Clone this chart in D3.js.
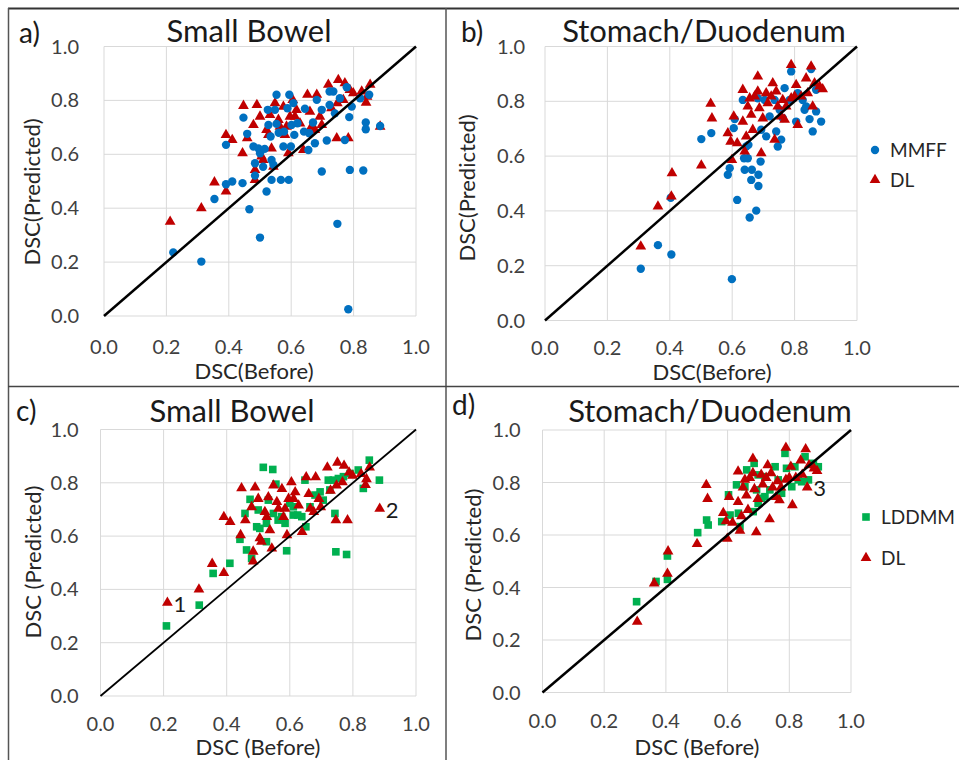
<!DOCTYPE html>
<html>
<head>
<meta charset="utf-8">
<script src="https://cdn.jsdelivr.net/npm/d3@7"></script>
<style>
  body { margin: 0; background: #fff; }
  svg { font-family: Lato, "Open Sans", sans-serif; }
  .tick-label { fill: #404040; font-size: 20px; }
  .axis-title { fill: #262626; font-size: 22px; }
  .panel-title { fill: #1a1a1a; font-size: 31px; }
  .panel-letter { fill: #1a1a1a; font-size: 28px; }
  .legend-text { fill: #262626; font-size: 19px; }
  .note { fill: #1a1a1a; font-size: 22px; }
</style>
</head>
<body>
<div id="chart"></div>
<script>
// ---- data: [DSC before, DSC predicted] ----
const ticks = [0, 0.2, 0.4, 0.6, 0.8, 1.0];

const smallBowelMMFF = [
  [0.222, 0.236], [0.312, 0.202], [0.354, 0.434], [0.391, 0.635], [0.391, 0.489],
  [0.411, 0.499], [0.444, 0.493], [0.447, 0.736], [0.459, 0.676], [0.466, 0.396],
  [0.500, 0.291], [0.479, 0.629], [0.484, 0.567], [0.484, 0.521], [0.495, 0.622],
  [0.500, 0.604], [0.510, 0.554], [0.521, 0.462], [0.525, 0.765], [0.527, 0.709],
  [0.534, 0.666], [0.537, 0.505], [0.537, 0.579], [0.543, 0.561], [0.553, 0.821],
  [0.548, 0.765], [0.553, 0.713], [0.567, 0.505], [0.575, 0.629], [0.577, 0.684],
  [0.592, 0.505], [0.594, 0.821], [0.588, 0.771], [0.601, 0.709], [0.599, 0.629],
  [0.607, 0.790], [0.610, 0.672], [0.620, 0.715], [0.644, 0.769], [0.641, 0.684],
  [0.655, 0.616], [0.658, 0.678], [0.676, 0.641], [0.670, 0.718], [0.682, 0.802],
  [0.698, 0.765], [0.698, 0.536], [0.714, 0.651], [0.723, 0.833], [0.723, 0.783],
  [0.740, 0.752], [0.748, 0.342], [0.756, 0.808], [0.772, 0.653], [0.778, 0.849],
  [0.783, 0.025], [0.786, 0.738], [0.788, 0.542], [0.794, 0.777], [0.821, 0.808],
  [0.831, 0.540], [0.839, 0.718], [0.839, 0.693], [0.850, 0.821], [0.885, 0.705],
  [0.735, 0.833], [0.515, 0.620], [0.560, 0.680]
];

const smallBowelDL = [
  [0.212, 0.350], [0.312, 0.400], [0.354, 0.496], [0.391, 0.462], [0.391, 0.672],
  [0.411, 0.653], [0.444, 0.604], [0.447, 0.780], [0.459, 0.660], [0.479, 0.709],
  [0.490, 0.783], [0.484, 0.505], [0.484, 0.542], [0.500, 0.740], [0.505, 0.592],
  [0.510, 0.579], [0.521, 0.691], [0.527, 0.672], [0.532, 0.746], [0.537, 0.622],
  [0.543, 0.554], [0.548, 0.790], [0.559, 0.728], [0.564, 0.703], [0.575, 0.777],
  [0.580, 0.672], [0.585, 0.703], [0.591, 0.604], [0.596, 0.740], [0.605, 0.802],
  [0.612, 0.740], [0.617, 0.765], [0.628, 0.715], [0.639, 0.616], [0.652, 0.821],
  [0.660, 0.758], [0.665, 0.703], [0.682, 0.821], [0.676, 0.691], [0.692, 0.740],
  [0.698, 0.709], [0.719, 0.858], [0.729, 0.771], [0.746, 0.660], [0.751, 0.876],
  [0.748, 0.790], [0.772, 0.864], [0.788, 0.839], [0.783, 0.660], [0.799, 0.827],
  [0.826, 0.833], [0.840, 0.792], [0.853, 0.858], [0.885, 0.703], [0.843, 0.814],
  [0.767, 0.802]
];

const smallBowelLDDMM = [
  [0.209, 0.263], [0.313, 0.341], [0.357, 0.460], [0.410, 0.498], [0.442, 0.588],
  [0.463, 0.548], [0.479, 0.516], [0.474, 0.738], [0.458, 0.685], [0.495, 0.635],
  [0.500, 0.698], [0.516, 0.858], [0.546, 0.850], [0.505, 0.629], [0.526, 0.579],
  [0.532, 0.735], [0.556, 0.795], [0.548, 0.685], [0.563, 0.660], [0.574, 0.673],
  [0.590, 0.545], [0.585, 0.648], [0.600, 0.723], [0.611, 0.679], [0.625, 0.679],
  [0.638, 0.673], [0.648, 0.810], [0.651, 0.635], [0.664, 0.710], [0.680, 0.754],
  [0.696, 0.766], [0.706, 0.735], [0.722, 0.810], [0.727, 0.773], [0.743, 0.685],
  [0.746, 0.541], [0.780, 0.531], [0.770, 0.823], [0.791, 0.835], [0.817, 0.848],
  [0.833, 0.779], [0.852, 0.885], [0.884, 0.810], [0.738, 0.810], [0.754, 0.816],
  [0.611, 0.710], [0.526, 0.648]
];

const stomachMMFF = [
  [0.307, 0.189], [0.362, 0.275], [0.405, 0.241], [0.403, 0.448], [0.501, 0.662],
  [0.533, 0.684], [0.586, 0.532], [0.592, 0.556], [0.599, 0.151], [0.605, 0.702],
  [0.616, 0.440], [0.634, 0.805], [0.638, 0.592], [0.640, 0.550], [0.650, 0.592],
  [0.652, 0.641], [0.656, 0.376], [0.661, 0.513], [0.663, 0.550], [0.677, 0.401],
  [0.684, 0.532], [0.684, 0.491], [0.691, 0.580], [0.693, 0.696], [0.709, 0.672],
  [0.720, 0.745], [0.736, 0.805], [0.741, 0.690], [0.746, 0.635], [0.757, 0.660],
  [0.762, 0.739], [0.768, 0.848], [0.789, 0.909], [0.805, 0.726], [0.832, 0.769],
  [0.837, 0.781], [0.848, 0.735], [0.853, 0.918], [0.858, 0.690], [0.869, 0.763],
  [0.885, 0.726], [0.869, 0.842], [0.704, 0.805], [0.752, 0.769], [0.784, 0.805],
  [0.608, 0.735], [0.682, 0.811], [0.810, 0.830], [0.826, 0.805], [0.645, 0.635]
];

const stomachDL = [
  [0.307, 0.270], [0.362, 0.416], [0.405, 0.453], [0.407, 0.538], [0.501, 0.566],
  [0.531, 0.791], [0.535, 0.738], [0.586, 0.684], [0.595, 0.653], [0.599, 0.586],
  [0.605, 0.745], [0.616, 0.647], [0.634, 0.842], [0.634, 0.726], [0.640, 0.617],
  [0.645, 0.672], [0.650, 0.781], [0.656, 0.811], [0.661, 0.751], [0.666, 0.696],
  [0.682, 0.891], [0.682, 0.836], [0.687, 0.775], [0.693, 0.611], [0.698, 0.738],
  [0.709, 0.830], [0.714, 0.793], [0.730, 0.866], [0.736, 0.660], [0.741, 0.836],
  [0.746, 0.781], [0.757, 0.745], [0.762, 0.805], [0.768, 0.733], [0.773, 0.781],
  [0.789, 0.933], [0.789, 0.811], [0.805, 0.860], [0.810, 0.714], [0.821, 0.818],
  [0.837, 0.884], [0.842, 0.830], [0.853, 0.927], [0.858, 0.781], [0.864, 0.866],
  [0.880, 0.854], [0.890, 0.844], [0.800, 0.818], [0.672, 0.818], [0.725, 0.818]
];

const stomachLDDMM = [
  [0.305, 0.346], [0.368, 0.423], [0.405, 0.520], [0.405, 0.431], [0.503, 0.609],
  [0.532, 0.657], [0.537, 0.638], [0.581, 0.651], [0.603, 0.753], [0.608, 0.676],
  [0.629, 0.791], [0.635, 0.683], [0.640, 0.632], [0.656, 0.784], [0.662, 0.848],
  [0.683, 0.689], [0.686, 0.873], [0.694, 0.772], [0.699, 0.721], [0.710, 0.740],
  [0.721, 0.822], [0.737, 0.772], [0.754, 0.860], [0.764, 0.810], [0.775, 0.759],
  [0.786, 0.911], [0.791, 0.854], [0.808, 0.784], [0.829, 0.810], [0.840, 0.803],
  [0.862, 0.810], [0.851, 0.898], [0.878, 0.873], [0.894, 0.860], [0.721, 0.746],
  [0.699, 0.829], [0.818, 0.860]
];

// annotated cases (label next to a DL point)
const smallBowelNotes = [["1", 0.212, 0.350], ["2", 0.885, 0.703]];
const stomachNotes = [["3", 0.858, 0.781]];

const colors = { MMFF: '#0070C0', DL: '#C00000', LDDMM: '#00B050' };

// ---- layout ----
const width = 959, height = 760;
const svg = d3.select('#chart').append('svg')
  .attr('width', width).attr('height', height);

// frame lines
svg.append('line').attr('x1', 8).attr('x2', width).attr('y1', 8.5).attr('y2', 8.5)
  .attr('stroke', '#333').attr('stroke-width', 2);
svg.append('line').attr('x1', 8.5).attr('x2', 8.5).attr('y1', 8).attr('y2', height)
  .attr('stroke', '#555').attr('stroke-width', 1.5);
svg.append('line').attr('x1', 446).attr('x2', 446).attr('y1', 8).attr('y2', height)
  .attr('stroke', '#555').attr('stroke-width', 1.5);
svg.append('line').attr('x1', 8).attr('x2', width).attr('y1', 386.5).attr('y2', 386.5)
  .attr('stroke', '#444').attr('stroke-width', 1.5);

const symbolFor = {
  MMFF: d3.symbol().type(d3.symbolCircle).size(55),
  DL: d3.symbol().type(d3.symbolTriangle).size(50),
  LDDMM: d3.symbol().type(d3.symbolSquare).size(58),
};

function drawPanel(p) {
  const g = svg.append('g');
  const x = d3.scaleLinear().domain([0, 1]).range([p.left, p.right]);
  const y = d3.scaleLinear().domain([0, 1]).range([p.bottom, p.top]);

  // grid
  g.append('g').selectAll('line').data(ticks).join('line')
    .attr('x1', d => x(d)).attr('x2', d => x(d))
    .attr('y1', p.top).attr('y2', p.bottom)
    .attr('stroke', '#d9d9d9').attr('stroke-width', 1);
  g.append('g').selectAll('line').data(ticks).join('line')
    .attr('y1', d => y(d)).attr('y2', d => y(d))
    .attr('x1', p.left).attr('x2', p.right)
    .attr('stroke', '#d9d9d9').attr('stroke-width', 1);

  // tick labels
  g.append('g').selectAll('text').data(ticks).join('text')
    .attr('class', 'tick-label')
    .attr('x', d => x(d)).attr('y', p.bottom + p.xTickGap)
    .attr('text-anchor', 'middle')
    .text(d3.format('.1f'));
  g.append('g').selectAll('text').data(ticks).join('text')
    .attr('class', 'tick-label')
    .attr('x', p.left - p.yTickGap).attr('y', d => y(d) + 7)
    .attr('text-anchor', 'end')
    .text(d3.format('.1f'));

  // series
  p.series.forEach(([name, pts]) => {
    g.append('g').selectAll('path').data(pts).join('path')
      .attr('d', symbolFor[name])
      .attr('transform', d => `translate(${x(d[0])},${y(d[1])})`)
      .attr('fill', colors[name]);
  });

  // identity line
  g.append('line')
    .attr('x1', x(0)).attr('y1', y(0)).attr('x2', x(1)).attr('y2', y(1))
    .attr('stroke', '#000').attr('stroke-width', p.lineWidth);

  // notes
  (p.notes || []).forEach(([label, nx, ny]) => {
    g.append('text').attr('class', 'note')
      .attr('x', x(nx) + 6).attr('y', y(ny) + 9).text(label);
  });

  // titles
  g.append('text').attr('class', 'panel-title')
    .attr('x', p.titleX).attr('y', p.titleY).attr('text-anchor', 'middle').text(p.title);
  g.append('text').attr('class', 'panel-letter')
    .attr('x', p.letterX).attr('y', p.letterY).text(p.letter);
  g.append('text').attr('class', 'axis-title')
    .attr('x', p.xTitleX).attr('y', p.xTitleY).attr('text-anchor', 'middle').text(p.xTitle);
  g.append('text').attr('class', 'axis-title')
    .attr('transform', `translate(${p.yTitleX},${p.yTitleY}) rotate(-90)`)
    .attr('text-anchor', 'middle').text(p.yTitle);

  // legend
  if (p.legend) {
    p.legend.forEach(([name, label], i) => {
      const ly = p.legendY + i * p.legendStep;
      g.append('path').attr('d', symbolFor[name])
        .attr('transform', `translate(${p.legendX},${ly})`)
        .attr('fill', colors[name]);
      g.append('text').attr('class', 'legend-text')
        .attr('x', p.legendX + 15).attr('y', ly + 7).text(label);
    });
  }
}

drawPanel({
  left: 104, right: 416, top: 46.5, bottom: 316, xTickGap: 38, yTickGap: 25,
  series: [['DL', smallBowelDL], ['MMFF', smallBowelMMFF]], lineWidth: 2.5,
  title: 'Small Bowel', titleX: 249, titleY: 42, letter: 'a)', letterX: 19, letterY: 43,
  xTitle: 'DSC(Before)', xTitleX: 254, xTitleY: 379,
  yTitle: 'DSC(Predicted)', yTitleX: 40, yTitleY: 192
});

drawPanel({
  left: 545, right: 857, top: 46.5, bottom: 320.5, xTickGap: 34, yTickGap: 20,
  series: [['MMFF', stomachMMFF], ['DL', stomachDL]], lineWidth: 2.5,
  title: 'Stomach/Duodenum', titleX: 704, titleY: 42, letter: 'b)', letterX: 461, letterY: 42,
  xTitle: 'DSC(Before)', xTitleX: 712, xTitleY: 380,
  yTitle: 'DSC(Predicted)', yTitleX: 475, yTitleY: 188,
  legend: [['MMFF', 'MMFF'], ['DL', 'DL']], legendX: 875, legendY: 150, legendStep: 30
});

drawPanel({
  left: 100.5, right: 416, top: 429.5, bottom: 696, xTickGap: 35, yTickGap: 22,
  series: [['LDDMM', smallBowelLDDMM], ['DL', smallBowelDL]], lineWidth: 1.8,
  notes: smallBowelNotes,
  title: 'Small Bowel', titleX: 232, titleY: 422, letter: 'c)', letterX: 16, letterY: 421,
  xTitle: 'DSC (Before)', xTitleX: 258, xTitleY: 755,
  yTitle: 'DSC (Predicted)', yTitleX: 41, yTitleY: 562
});

drawPanel({
  left: 542.5, right: 851, top: 430, bottom: 692.5, xTickGap: 35, yTickGap: 22,
  series: [['LDDMM', stomachLDDMM], ['DL', stomachDL]], lineWidth: 2.5,
  notes: stomachNotes,
  title: 'Stomach/Duodenum', titleX: 710, titleY: 422, letter: 'd)', letterX: 452, letterY: 415,
  xTitle: 'DSC (Before)', xTitleX: 697, xTitleY: 755,
  yTitle: 'DSC (Predicted)', yTitleX: 481, yTitleY: 565,
  legend: [['LDDMM', 'LDDMM'], ['DL', 'DL']], legendX: 866, legendY: 517, legendStep: 41
});
</script>
</body>
</html>
